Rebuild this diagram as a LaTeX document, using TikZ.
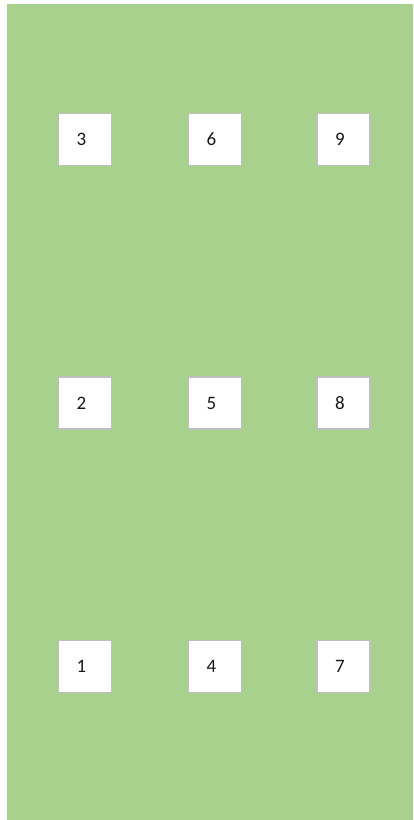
\documentclass[tikz,border=0pt]{standalone}
\usepackage{fontspec}
\setmainfont{Carlito}
\definecolor{bggreen}{HTML}{A9D18E}
\definecolor{boxgray}{HTML}{BFBFBF}
\tikzset{
  numbox/.style={draw=boxgray, line width=1.2pt, fill=white, minimum width=53pt, minimum height=52pt, inner sep=0pt, font=\fontsize{19}{21}\selectfont, text=black!90},
}
\newcommand{\numtxt}[1]{\hspace*{-7pt}\raisebox{-1.5pt}{#1}}
\begin{document}
\begin{tikzpicture}[x=1pt,y=-1pt]
\useasboundingbox (0,0) rectangle (413,820);
\fill[bggreen] (7,4) rectangle (413,820);
\node[numbox] (n3) at (85,139.5) {\numtxt{3}};
\node[numbox] (n6) at (215,139.5) {\numtxt{6}};
\node[numbox] (n9) at (343.5,139.5) {\numtxt{9}};
\node[numbox] (n2) at (85,403) {\numtxt{2}};
\node[numbox] (n5) at (215,403) {\numtxt{5}};
\node[numbox] (n8) at (343.5,403) {\numtxt{8}};
\node[numbox] (n1) at (85,666.5) {\numtxt{1}};
\node[numbox] (n4) at (215,666.5) {\numtxt{4}};
\node[numbox] (n7) at (343.5,666.5) {\numtxt{7}};
\end{tikzpicture}
\end{document}
